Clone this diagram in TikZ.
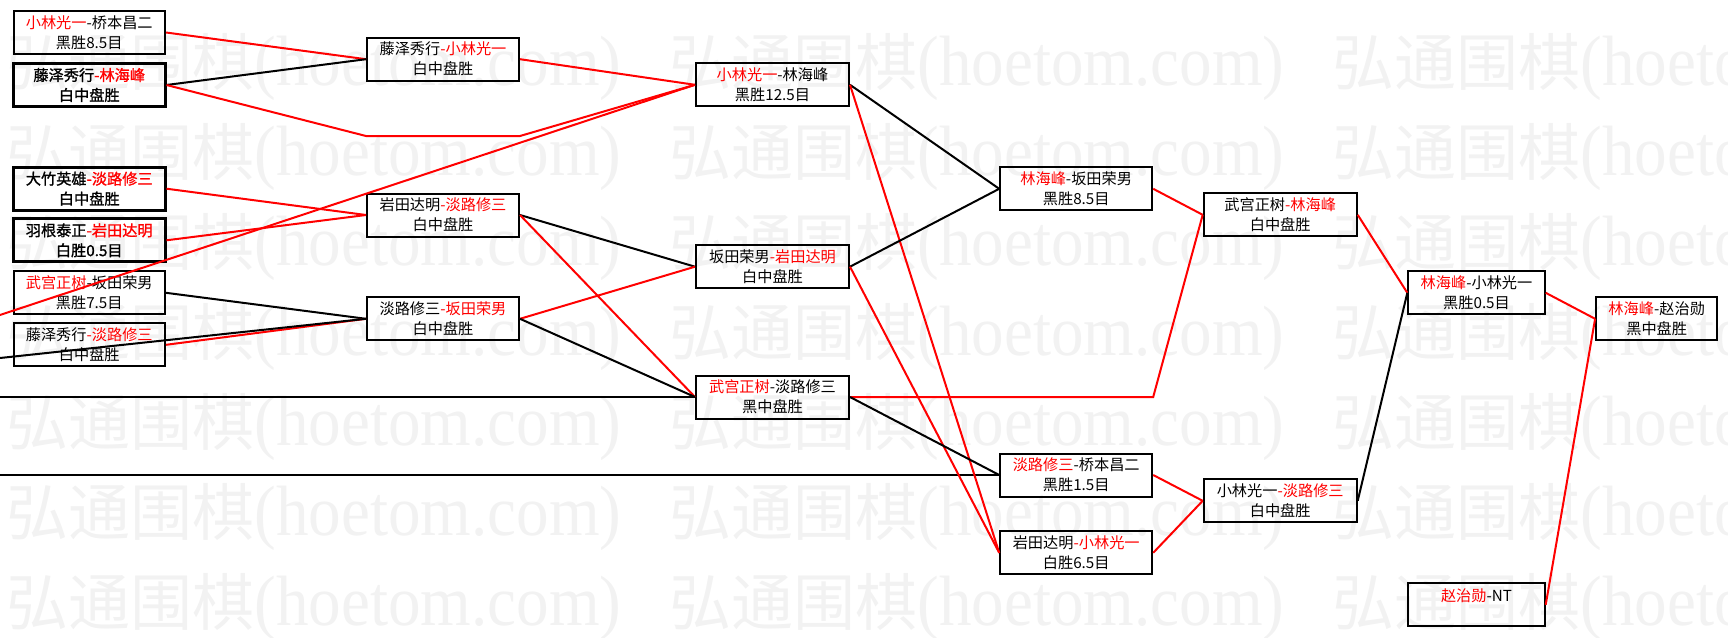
\documentclass[tikz,border=0pt]{standalone}
\usepackage{fontspec}
\usepackage{xcolor}
\usepackage{graphicx}
\usepackage{tikz}
\setmainfont{Noto Sans CJK SC}
\newfontfamily\wmlatin{Liberation Serif}
\newfontfamily\boldcjk[FakeBold=1.2]{Noto Sans CJK SC}
\newcommand{\rn}[1]{\textcolor{red}{#1}}

\begin{document}
\begin{tikzpicture}[x=0.5pt,y=-0.5pt,
  game/.style={draw, line width=1pt, inner sep=0pt, align=center, minimum width=#1, minimum height=21.5pt, font=\fontsize{7.6}{10}\selectfont},
  heavy/.style={line width=1.5pt, font=\boldcjk\fontsize{7.6}{10}\selectfont},
  redpath/.style={draw=red, line width=1pt},
  blackpath/.style={draw=black, line width=1pt},
  watermark/.style={anchor=west, inner sep=0pt, text=black!5, font=\fontsize{31}{31}\selectfont}]
\useasboundingbox (0,0) rectangle (1728,637);

\begin{scope}
\clip (0,0) rectangle (1728,637);
\foreach \row in {0,...,6}
  \foreach \col in {0,1,2}
    \node[watermark] (wm\row\col) at (6+663*\col,67+90*\row) {弘通围棋{\wmlatin\scalebox{1.05}[1.15]{(hoetom.com)}}};
\end{scope}

\node[game=75.75pt] (a1) at (89.25,32.5) {\rn{小林光一}-桥本昌二\\黑胜8.5目};
\node[game=75.75pt, heavy] (a2) at (89.25,85) {藤泽秀行\rn{-林海峰}\\白中盘胜};
\node[game=75.75pt, heavy] (a3) at (89.25,188.7) {大竹英雄\rn{-淡路修三}\\白中盘胜};
\node[game=75.75pt, heavy] (a4) at (89.25,240.3) {羽根泰正\rn{-岩田达明}\\白胜0.5目};
\node[game=75.75pt] (a5) at (89.25,292.8) {\rn{武宫正树}-坂田荣男\\黑胜7.5目};
\node[game=75.75pt] (a6) at (89.25,344.8) {藤泽秀行\rn{-淡路修三}\\白中盘胜};

\node[game=76pt] (b1) at (443,59.2) {藤泽秀行\rn{-小林光一}\\白中盘胜};
\node[game=76pt] (b2) at (443,215) {岩田达明\rn{-淡路修三}\\白中盘胜};
\node[game=76pt] (b3) at (443,318.8) {淡路修三\rn{-坂田荣男}\\白中盘胜};

\node[game=76.5pt] (c1) at (772.5,84.8) {\rn{小林光一}-林海峰\\黑胜12.5目};
\node[game=76.5pt] (c2) at (772.5,266.7) {坂田荣男\rn{-岩田达明}\\白中盘胜};
\node[game=76.5pt] (c3) at (772.5,397) {\rn{武宫正树}-淡路修三\\黑中盘胜};

\node[game=76pt] (d1) at (1076.2,188.8) {\rn{林海峰}-坂田荣男\\黑胜8.5目};
\node[game=76pt] (d2) at (1076.2,475) {\rn{淡路修三}-桥本昌二\\黑胜1.5目};
\node[game=76pt] (d3) at (1076.2,552.8) {岩田达明\rn{-小林光一}\\白胜6.5目};

\node[game=76.5pt] (e1) at (1280.2,214.8) {武宫正树\rn{-林海峰}\\白中盘胜};
\node[game=76.5pt] (e2) at (1280.2,500.8) {小林光一\rn{-淡路修三}\\白中盘胜};

\node[game=68.2pt] (f1) at (1476.5,292.8) {\rn{林海峰}-小林光一\\黑胜0.5目};
\node[game=68.2pt] (f2) at (1476.5,604.8) {\rn{赵治勋}-NT\\\mbox{}};

\node[game=60.6pt] (g1) at (1656.7,318.8) {\rn{林海峰}-赵治勋\\黑中盘胜};

\coordinate (lead1) at (0,315);
\coordinate (lead2) at (0,358);
\coordinate (lead3) at (0,397);
\coordinate (lead4) at (0,475);
\coordinate (skip1) at (366,136);
\coordinate (skip2) at (520,136);

\draw[redpath] (a1.east) -- (b1.west);
\draw[blackpath] (a2.east) -- (b1.west);
\draw[redpath] (a2.east) -- (skip1) -- (skip2) -- (c1.west);
\draw[redpath] (a3.east) -- (b2.west);
\draw[redpath] (a4.east) -- (b2.west);
\draw[blackpath] (a5.east) -- (b3.west);
\draw[redpath] (a6.east) -- (b3.west);
\draw[redpath] (lead1) -- (c1.west);
\draw[blackpath] (lead2) -- (b3.west);
\draw[blackpath] (lead3) -- (c3.west);
\draw[blackpath] (lead4) -- (d2.west);

\draw[redpath] (b1.east) -- (c1.west);
\draw[blackpath] (b2.east) -- (c2.west);
\draw[redpath] (b2.east) -- (c3.west);
\draw[redpath] (b3.east) -- (c2.west);
\draw[blackpath] (b3.east) -- (c3.west);

\draw[blackpath] (c1.east) -- (d1.west);
\draw[redpath] (c1.east) -- (d3.west);
\draw[blackpath] (c2.east) -- (d1.west);
\draw[redpath] (c2.east) -- (d3.west);
\draw[redpath] (c3.east) -- (d2.east |- c3.east) -- (e1.west);
\draw[blackpath] (c3.east) -- (d2.west);

\draw[redpath] (d1.east) -- (e1.west);
\draw[redpath] (d2.east) -- (e2.west);
\draw[redpath] (d3.east) -- (e2.west);

\draw[redpath] (e1.east) -- (f1.west);
\draw[blackpath] (e2.east) -- (f1.west);
\draw[redpath] (f1.east) -- (g1.west);
\draw[redpath] (f2.east) -- (g1.west);
\end{tikzpicture}
\end{document}
